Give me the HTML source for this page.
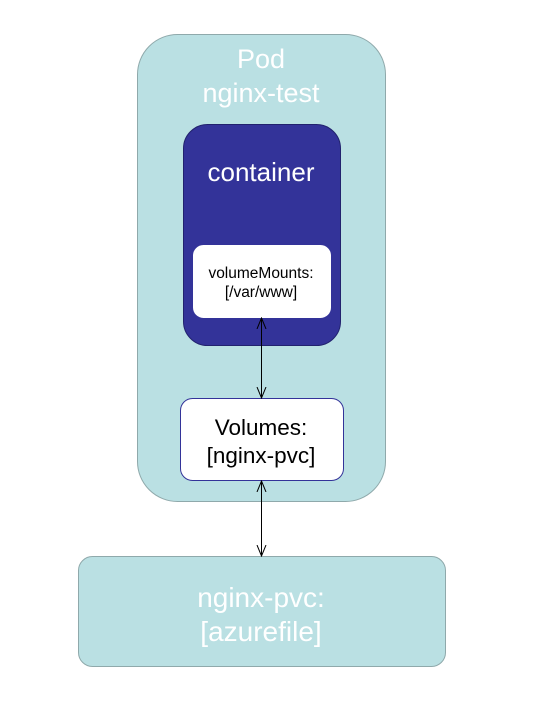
<!DOCTYPE html>
<html><head><style>
body{margin:0;width:534px;height:700px;background:#fff;overflow:hidden}
</style></head><body>
<svg width="534" height="700" xmlns="http://www.w3.org/2000/svg" font-family="Liberation Sans, Arial, sans-serif">
<defs>
<marker id="a" viewBox="0 0 12 12" refX="11" refY="6" markerWidth="12" markerHeight="12" markerUnits="userSpaceOnUse" orient="auto-start-reverse">
<path d="M0,1.5 L11,6 L0,10.5" fill="none" stroke="#000" stroke-width="1"/></marker>
</defs>
<rect x="137.5" y="34.5" width="248" height="467" rx="40" fill="#bae0e3" stroke="#8fa9ab"/>
<text x="261" y="68" font-size="27" fill="#fff" text-anchor="middle">Pod</text>
<text x="261" y="102" font-size="27" fill="#fff" text-anchor="middle">nginx-test</text>
<rect x="183.5" y="124.5" width="157" height="221" rx="24" fill="#333399" stroke="#22226e"/>
<text x="261" y="181" font-size="26" fill="#fff" text-anchor="middle">container</text>
<rect x="193.5" y="245.5" width="137" height="72" rx="10" fill="#fff" stroke="#fff"/>
<text x="261" y="278" font-size="15.5" fill="#000" text-anchor="middle">volumeMounts:</text>
<text x="261" y="297" font-size="15.5" fill="#000" text-anchor="middle">[/var/www]</text>
<rect x="180.5" y="398.5" width="163" height="82" rx="12" fill="#fff" stroke="#333399"/>
<text x="261" y="435" font-size="22.5" fill="#000" text-anchor="middle">Volumes:</text>
<text x="261" y="463" font-size="22.5" fill="#000" text-anchor="middle">[nginx-pvc]</text>
<rect x="78.5" y="556.5" width="367" height="110" rx="14" fill="#bae0e3" stroke="#8fa9ab"/>
<text x="261" y="607" font-size="28" fill="#fff" text-anchor="middle">nginx-pvc:</text>
<text x="261" y="641" font-size="28" fill="#fff" text-anchor="middle">[azurefile]</text>
<line x1="261.5" y1="318" x2="261.5" y2="398" stroke="#000" marker-start="url(#a)" marker-end="url(#a)"/>
<line x1="261.5" y1="481" x2="261.5" y2="556" stroke="#000" marker-start="url(#a)" marker-end="url(#a)"/>
</svg>
</body></html>
